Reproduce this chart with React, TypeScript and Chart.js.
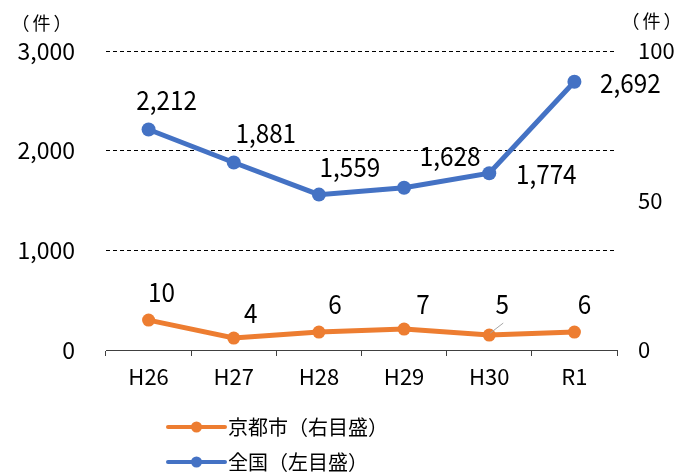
import React, { useEffect, useRef } from "react";
import { Chart, registerables } from "chart.js";

Chart.register(...registerables);

// ---- data ----
const categories = ["H26", "H27", "H28", "H29", "H30", "R1"];
const kyotoValues = [10, 4, 6, 7, 5, 6];
const zenkokuValues = [2212, 1881, 1559, 1628, 1774, 2692];
const leftTicks = [0, 1000, 2000, 3000];
const rightTicks = [0, 50, 100];
const kyotoLabel = "京都市（右目盛）";
const zenkokuLabel = "全国（左目盛）";
const unitLabel = "（件）";

// ---- style ----
const ORANGE = "#ED7D31";
const BLUE = "#4472C4";
const NUM_FONT = '"Noto Sans CJK JP", "Noto Sans", sans-serif';
const JP_FONT = '"Noto Sans CJK JP", sans-serif';
// data label offsets relative to each point (dx, dy)
const kyotoLabelOffsets = [[13, -29], [17, -26], [16, -29], [19, -26], [13, -32], [10, -29]];
const zenkokuLabelOffsets = [[18, -31], [32, -31], [31, -29], [46, -33], [57, 0], [56, 0]];
const kyotoLeader = [false, false, false, false, true, false];

const fmt = (v: number) => Number(v).toLocaleString("en-US");

const drawNarrow = (ctx: any, text: string, x: number, y: number, sx: number) => {
  ctx.save();
  ctx.translate(x, y);
  ctx.scale(sx, 1);
  ctx.fillText(text, 0, 0);
  ctx.restore();
};

const extrasPlugin = {
  id: "extras",
  afterDatasetsDraw(chart: any) {
    const ctx = chart.ctx;
    ctx.save();
    ctx.font = `27px ${NUM_FONT}`;
    ctx.fillStyle = "#000";
    ctx.textAlign = "center";
    ctx.textBaseline = "middle";
    chart.data.datasets.forEach((ds: any, di: number) => {
      const meta = chart.getDatasetMeta(di);
      const offs = di === 0 ? kyotoLabelOffsets : zenkokuLabelOffsets;
      meta.data.forEach((pt: any, i: number) => {
        const [dx, dy] = offs[i];
        if (di === 0 && kyotoLeader[i]) {
          ctx.save();
          ctx.strokeStyle = "#A6A6A6";
          ctx.lineWidth = 1;
          ctx.beginPath();
          ctx.moveTo(pt.x + 1, pt.y - 2);
          ctx.lineTo(pt.x + 14, pt.y - 12);
          ctx.stroke();
          ctx.restore();
        }
        drawNarrow(ctx, fmt(ds.data[i]), pt.x + dx, pt.y + dy + 1, 0.9);
      });
    });
    ctx.restore();
  },
  afterDraw(chart: any) {
    const ctx = chart.ctx;
    const area = chart.chartArea;
    ctx.save();
    // unit labels
    ctx.font = `18px ${JP_FONT}`;
    ctx.fillStyle = "#000";
    ctx.textAlign = "center";
    ctx.textBaseline = "middle";
    try { (ctx as any).letterSpacing = "3px"; } catch (e) {}
    ctx.fillText(unitLabel, 43, area.top - 28);
    ctx.fillText(unitLabel, 653, area.top - 30);
    try { (ctx as any).letterSpacing = "0px"; } catch (e) {}
    // legend
    const items = [
      { text: kyotoLabel, color: ORANGE },
      { text: zenkokuLabel, color: BLUE },
    ];
    const x0 = 168, x1 = 225;
    items.forEach((it, i) => {
      const y = area.bottom + 77 + i * 35;
      ctx.strokeStyle = it.color;
      ctx.lineWidth = 4;
      ctx.lineCap = "round";
      ctx.beginPath();
      ctx.moveTo(x0, y);
      ctx.lineTo(x1, y);
      ctx.stroke();
      ctx.fillStyle = it.color;
      ctx.beginPath();
      ctx.arc((x0 + x1) / 2, y, 5.5, 0, Math.PI * 2);
      ctx.fill();
      ctx.fillStyle = "#000";
      ctx.font = `20px ${JP_FONT}`;
      ctx.textAlign = "left";
      ctx.textBaseline = "middle";
      ctx.fillText(it.text, x1 + 3, y);
    });
    ctx.restore();
  },
};

export default function App() {
  const ref = useRef<HTMLCanvasElement | null>(null);
  useEffect(() => {
    if (!ref.current) return;
    const chart = new Chart(ref.current, {
      type: "line",
      data: {
        labels: categories,
        datasets: [
          {
            label: kyotoLabel,
            data: kyotoValues,
            yAxisID: "y1",
            borderColor: ORANGE,
            backgroundColor: ORANGE,
            pointBackgroundColor: ORANGE,
            pointBorderWidth: 0,
            pointRadius: 6.5,
            borderWidth: 5,
            tension: 0,
          },
          {
            label: zenkokuLabel,
            data: zenkokuValues,
            yAxisID: "y",
            borderColor: BLUE,
            backgroundColor: BLUE,
            pointBackgroundColor: BLUE,
            pointBorderWidth: 0,
            pointRadius: 7,
            borderWidth: 5,
            tension: 0,
          },
        ],
      },
      options: {
        animation: false,
        responsive: true,
        maintainAspectRatio: false,
        layout: { padding: { left: 0, right: 0, top: 51, bottom: 82 } },
        plugins: {
          legend: { display: false },
          tooltip: { enabled: false },
        },
        scales: {
          x: {
            offset: true,
            grid: {
              display: true,
              offset: true,
              drawOnChartArea: false,
              drawTicks: true,
              tickLength: 6,
              color: "#404040",
              lineWidth: 1,
            },
            border: { display: true, color: "#404040", width: 1 },
            ticks: {
              font: { family: NUM_FONT, size: 22 },
              color: "#000",
              padding: 7,
              maxRotation: 0,
              autoSkip: false,
            },
            afterFit: (s: any) => {
              s.height = 40;
            },
          },
          y: {
            position: "left",
            min: 0,
            max: 3000,
            afterBuildTicks: (s: any) => {
              s.ticks = leftTicks.map((v) => ({ value: v }));
            },
            grid: {
              color: (c: any) => (c.tick && c.tick.value === 0 ? "rgba(0,0,0,0)" : "#000"),
              lineWidth: 1,
              drawTicks: false,
            },
            border: { display: false, dash: [4, 3] },
            ticks: {
              font: { family: NUM_FONT, size: 23 },
              color: "#000",
              padding: 31,
              callback: (v: any) => fmt(v),
            },
            afterFit: (s: any) => {
              s.width = 106;
            },
          },
          y1: {
            position: "right",
            min: 0,
            max: 100,
            afterBuildTicks: (s: any) => {
              s.ticks = rightTicks.map((v) => ({ value: v }));
            },
            grid: { drawOnChartArea: false, drawTicks: false },
            border: { display: false },
            ticks: {
              font: { family: NUM_FONT, size: 22 },
              color: "#000",
              padding: 21,
              callback: (v: any) => fmt(v),
            },
            afterFit: (s: any) => {
              s.width = 58;
            },
          },
        },
      },
      plugins: [extrasPlugin],
    } as any);
    return () => chart.destroy();
  }, []);
  return (
    <div style={{ position: "fixed", left: 0, top: 0, width: 675, height: 472 }}>
      <canvas ref={ref} />
    </div>
  );
}
